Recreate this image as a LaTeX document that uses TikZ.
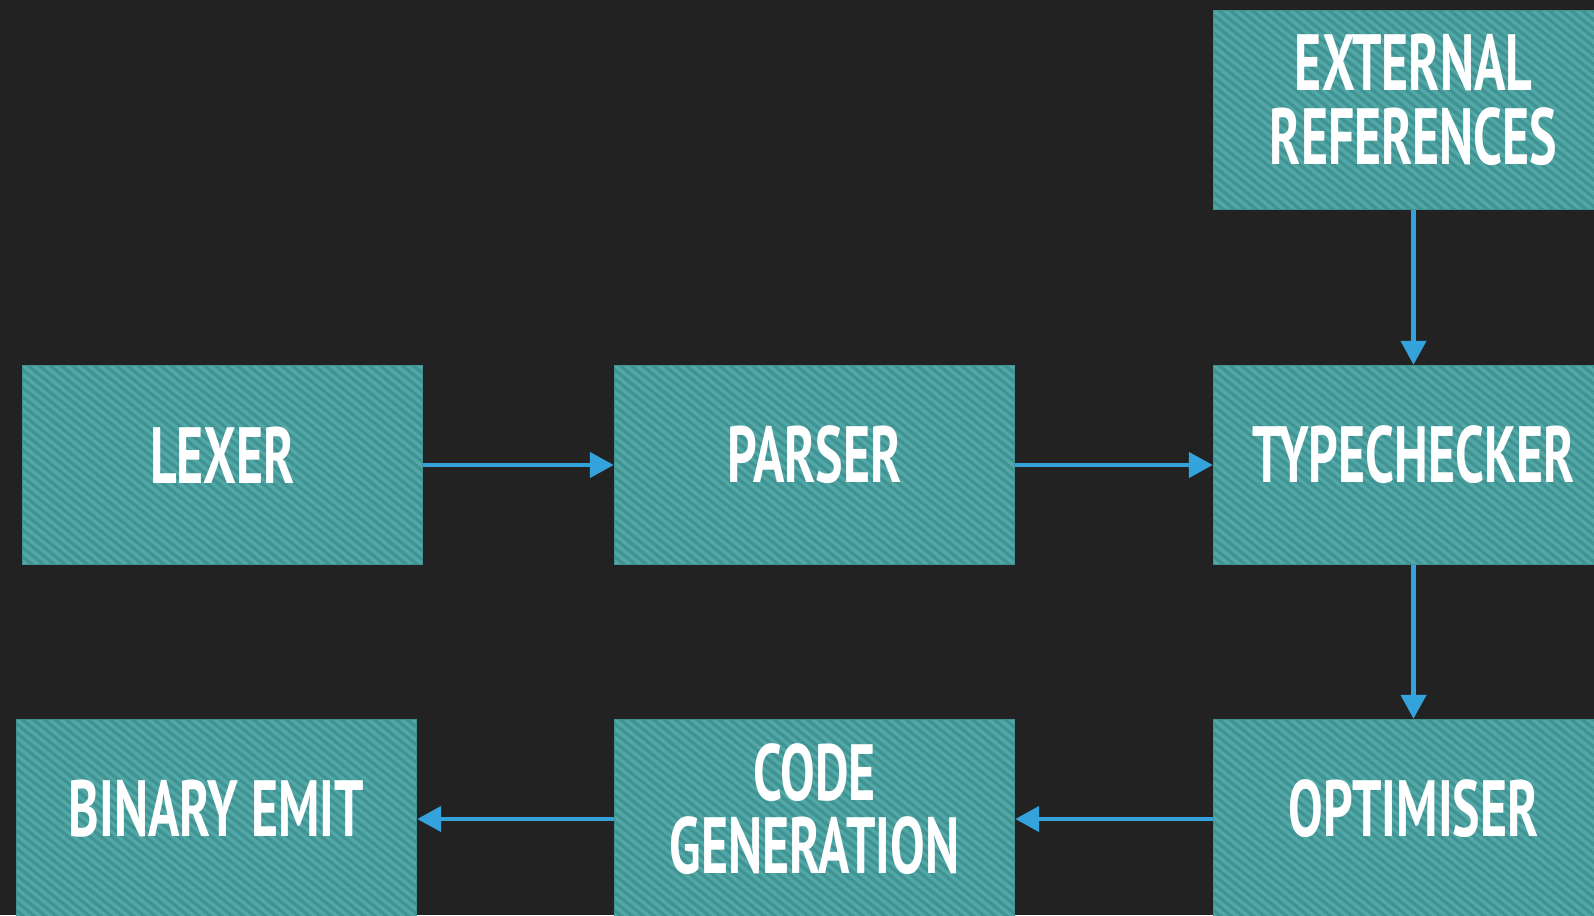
\documentclass[tikz,border=0pt]{standalone}
\usepackage{fontspec}
\setmainfont[FakeStretch=0.65]{PT Sans}
\usetikzlibrary{arrows.meta}

\definecolor{bgdark}{HTML}{222222}
\definecolor{stageteal}{HTML}{419292}
\definecolor{stripeteal}{HTML}{51A8A6}
\definecolor{flowblue}{HTML}{34A3DB}

\tikzset{
	stage/.style={minimum width=401bp, minimum height=200bp, inner sep=0pt, fill=stageteal,
		path picture={
			\clip ([shift={(1.2bp,-1.2bp)}]path picture bounding box.north west) rectangle ([shift={(-1.2bp,1.2bp)}]path picture bounding box.south east);
			\foreach \k in {-30,...,40}
				\draw[stripeteal, line width=3.4bp] ([xshift=\k*11bp]path picture bounding box.north west) ++(-52bp,42bp) -- ++(364bp,-294bp);
		}},
	stagetext/.style={text=white, inner sep=0pt, align=center, font=\fontsize{80}{74}\selectfont\bfseries},
	flow/.style={draw=flowblue, line width=4.5bp, -{Triangle[length=24bp,width=25bp]}},
}

\begin{document}
\begin{tikzpicture}[x=1bp, y=-1bp]
	\fill[bgdark] (0,0) rectangle (1594,915);
	\useasboundingbox (0,0) rectangle (1594,915);
	\clip (0,0) rectangle (1594,915);

	% the stages
	\node[stage] (ext) at (1413.5,110) {};
	\node[stage] (lexer) at (222.5,465) {};
	\node[stage] (parser) at (814.5,465) {};
	\node[stage] (typecheck) at (1413.5,465) {};
	\node[stage] (binary) at (216.5,819) {};
	\node[stage] (codegen) at (814.5,819) {};
	\node[stage] (optimiser) at (1413.5,819) {};

	\node[stagetext] (ext-t) at ([yshift=10bp]ext.center) {EXTERNAL\\REFERENCES};
	\node[stagetext] (lexer-t) at ([yshift=10bp]lexer.center) {LEXER};
	\node[stagetext] (parser-t) at ([yshift=10bp]parser.center) {PARSER};
	\node[stagetext] (typecheck-t) at ([yshift=10bp]typecheck.center) {TYPECHECKER};
	\node[stagetext] (binary-t) at ([yshift=10bp]binary.center) {BINARY EMIT};
	\node[stagetext] (codegen-t) at ([yshift=10bp]codegen.center) {CODE\\GENERATION};
	\node[stagetext] (optimiser-t) at ([yshift=10bp]optimiser.center) {OPTIMISER};

	% the flow
	\draw[flow] (lexer) -- (parser);
	\draw[flow] (parser) -- (typecheck);
	\draw[flow] (ext) -- (typecheck);
	\draw[flow] (typecheck) -- (optimiser);
	\draw[flow] (optimiser) -- (codegen);
	\draw[flow] (codegen) -- (binary);
\end{tikzpicture}
\end{document}
